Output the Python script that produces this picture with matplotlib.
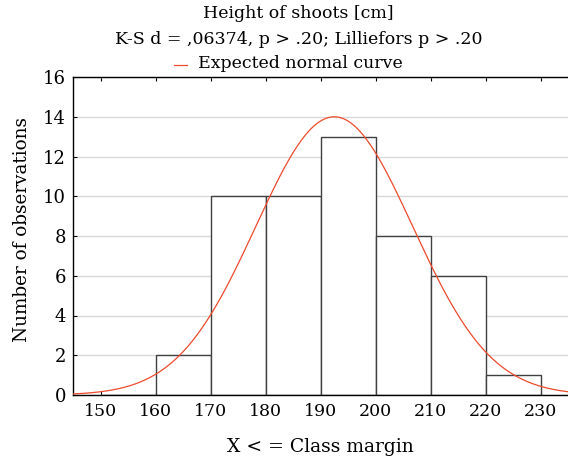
import numpy as np
import matplotlib
matplotlib.use("Agg")
import matplotlib.pyplot as plt

plt.rcParams['font.family'] = ['DejaVu Serif']

bin_left = [150, 160, 170, 180, 190, 200, 210, 220]
counts = [0, 2, 10, 10, 13, 8, 6, 1]
bin_width = 10
fit_mean = 192.5
fit_sd = 14.25
n_obs = sum(counts)
xticks = [150, 160, 170, 180, 190, 200, 210, 220, 230]
yticks = [0, 2, 4, 6, 8, 10, 12, 14, 16]

W, H = 568, 458
fig = plt.figure(figsize=(W / 100, H / 100), dpi=100)
ax = fig.add_axes([73 / W, 1 - 395 / H, (568 - 73) / W, (395 - 77) / H])

ax.set_axisbelow(True)
ax.yaxis.grid(True, color='#d9d9d9', lw=1)
ax.bar(bin_left, counts, width=bin_width, align='edge', color='white',
       edgecolor='#404040', lw=1.0, zorder=2)

xs = np.linspace(145, 235, 400)
ys = n_obs * bin_width / (fit_sd * np.sqrt(2 * np.pi)) * np.exp(-0.5 * ((xs - fit_mean) / fit_sd) ** 2)
ax.plot(xs, ys, color='#ee4a2c', lw=0.9, zorder=3)

ax.set_xlim(145, 235)
ax.set_ylim(0, 16)
ax.set_xticks(xticks)
ax.set_yticks(yticks)
ax.spines['right'].set_visible(False)
for s in ['left', 'bottom', 'top']:
    ax.spines[s].set_color('black')
    ax.spines[s].set_linewidth(1.0)
ax.tick_params(axis='x', direction='in', length=3, top=True, labelsize=12.5, pad=6)
ax.tick_params(axis='y', direction='in', length=3, labelsize=13, pad=5)

ax.set_xlabel('X < = Class margin', fontsize=13.5, labelpad=13)
ax.set_ylabel('Number of observations', fontsize=13.2, labelpad=9, y=0.52)

fig.text(298 / W, 1 - 14 / H, 'Height of shoots [cm]', ha='center', va='center', fontsize=12.5)
fig.text(299 / W, 1 - 40 / H, 'K-S d = ,06374, p > .20; Lilliefors p > .20', ha='center', va='center', fontsize=12.5)
fig.text(300 / W, 1 - 64 / H, 'Expected normal curve', ha='center', va='center', fontsize=12.5)
fig.add_artist(plt.Line2D([174 / W, 187 / W], [1 - 65 / H, 1 - 65 / H], color='#ee4a2c', lw=0.9))

fig.savefig('out.png', dpi=100)
